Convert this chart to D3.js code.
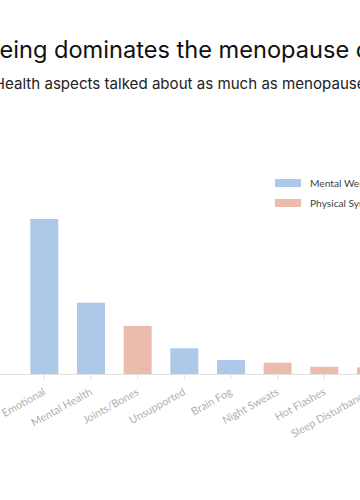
<!DOCTYPE html>
<html><head><meta charset="utf-8">
<script src="https://cdn.jsdelivr.net/npm/d3@7"></script>
<style>html,body{margin:0;padding:0;background:#fff;overflow:hidden}</style>
</head><body>
<svg id="c" width="360" height="500"></svg>
<script>
const categories = ["Emotional","Mental Health","Joints/Bones","Unsupported","Brain Fog","Night Sweats","Hot Flashes","Sleep Disturbances"];
const values = [100, 46, 31, 16.6, 9, 7.3, 4.7, 4.3];
const groups = ["Mental Wellbeing","Mental Wellbeing","Physical Symptoms","Mental Wellbeing","Mental Wellbeing","Physical Symptoms","Physical Symptoms","Physical Symptoms"];
const legendLabels = ["Mental Wellbeing","Physical Symptoms"];
const colors = ["#aec8ea","#ebbcae"];
const titleText = "Mental Wellbeing dominates the menopause conversation";
const subtitleText = "No Physical Health aspects talked about as much as menopause mental health";

const svg = d3.select("#c");
const W = 360;
const base = 374;
const x = d3.scaleBand().domain(categories).range([21, 394.3]).paddingInner(0.4).paddingOuter(0.2);
const y = d3.scaleLinear().domain([0, 120]).range([base, base - 186]);
const color = d3.scaleOrdinal().domain(legendLabels).range(colors);

// title
const t = svg.append("text").attr("y", 58).attr("font-family", "Inter, sans-serif")
  .attr("font-size", 23.6).attr("fill", "#111").text(titleText);
const tp = titleText.indexOf("eing");
t.attr("x", -t.node().getSubStringLength(0, tp) - 0.5);
const s = svg.append("text").attr("y", 89).attr("font-family", "Inter, sans-serif")
  .attr("font-size", 15.1).attr("fill", "#222").text(subtitleText);
const sp = subtitleText.indexOf("ealth");
s.attr("x", -s.node().getSubStringLength(0, sp) + 5);

// bars
svg.append("g").selectAll("rect").data(categories).join("rect")
  .attr("x", d => x(d)).attr("width", x.bandwidth())
  .attr("y", (d, i) => y(values[i])).attr("height", (d, i) => base - y(values[i]))
  .attr("fill", (d, i) => color(groups[i]));

// axis
const ax = svg.append("g").attr("transform", `translate(0,${base})`)
  .call(d3.axisBottom(x).tickSize(5).tickSizeOuter(0));
ax.select(".domain").remove();
ax.selectAll(".tick line").attr("stroke", "#ddd");
ax.selectAll(".tick text").attr("font-family", "Lato, sans-serif").attr("font-size", 10.8)
  .attr("fill", "#b0b0b0").attr("text-anchor", "end")
  .attr("y", 0).attr("dy", 0).attr("dx", 0)
  .attr("transform", "translate(2,20) rotate(-29)");
svg.append("line").attr("x1", 0).attr("x2", W).attr("y1", base + 0.5).attr("y2", base + 0.5)
  .attr("stroke", "#e2e2e2");

// legend
const lg = svg.append("g").selectAll("g").data(legendLabels).join("g")
  .attr("transform", (d, i) => `translate(275,${179 + i * 20})`);
lg.append("rect").attr("width", 26).attr("height", 8).attr("fill", d => color(d));
lg.append("text").attr("x", 35).attr("y", 8).attr("font-family", "Lato, sans-serif")
  .attr("font-size", 10.2).attr("fill", "#444").text(d => d);
</script>
</body></html>
